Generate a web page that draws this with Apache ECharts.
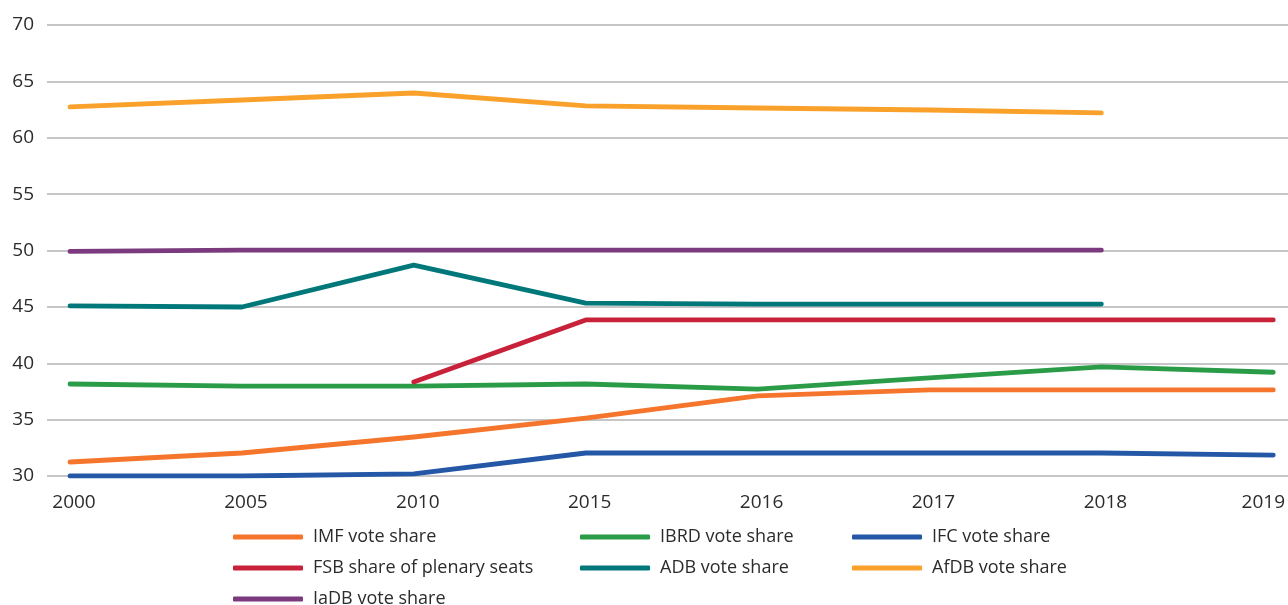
<!DOCTYPE html>
<html>
<head>
<meta charset="utf-8">
<script src="https://cdn.jsdelivr.net/npm/echarts@6/dist/echarts.min.js"></script>
<style>html,body{margin:0;padding:0;background:#fff;}#c{width:1288px;height:605px;}</style>
</head>
<body>
<div id="c"></div>
<script>
const years = ['2000','2005','2010','2015','2016','2017','2018','2019'];
const yTicks = [30, 35, 40, 45, 50, 55, 60, 65, 70];
const imf  = [31.24, 32.04, 33.46, 35.14, 37.1, 37.63, 37.63, 37.63];
const ibrd = [38.16, 37.98, 37.98, 38.16, 37.7, 38.7, 39.67, 39.2];
const ifc  = [30.0, 30.0, 30.18, 32.04, 32.04, 32.04, 32.04, 31.86];
const fsb  = [null, null, 38.34, 43.84, 43.84, 43.84, 43.84, 43.84];
const adb  = [45.08, 44.99, 48.7, 45.34, 45.25, 45.25, 45.25, null];
const afdb = [62.73, 63.35, 63.97, 62.82, 62.64, 62.46, 62.2, null];
const iadb = [49.92, 50.03, 50.03, 50.03, 50.03, 50.03, 50.03, null];

const names = ['IMF vote share','IBRD vote share','IFC vote share','FSB share of plenary seats','ADB vote share','AfDB vote share','IaDB vote share'];
const values = [imf, ibrd, ifc, fsb, adb, afdb, iadb];
const colors = ['#F4752B','#2A9C48','#2458A6','#C8213A','#00787A','#F9A12B','#7B3A7E'];

const font = 'Open Sans';
const txt = '#2b2b2b';
const chart = echarts.init(document.getElementById('c'));
const yMin = yTicks[0], yMax = yTicks[yTicks.length-1], yStep = yTicks[1]-yTicks[0];

chart.setOption({
  animation: false,
  textStyle: {fontFamily: font},
  grid: [
    {left: 70, right: 13, top: 25, bottom: 129},
    {left: 47, right: 0, top: 25, bottom: 129}
  ],
  xAxis: [
    {type: 'category', gridIndex: 0, data: years, boundaryGap: false,
     axisLine: {show: false}, axisTick: {show: false},
     axisLabel: {margin: 17,
       formatter: (v, i) => (i === years.length - 1 ? '{e|' : '{n|') + v + '}',
       rich: {
         n: {color: txt, fontSize: 19, fontFamily: font, padding: [0, 0, 0, 8]},
         e: {color: txt, fontSize: 19, fontFamily: font, padding: [0, 20, 0, 0]}
       }}},
    {type: 'value', gridIndex: 1, show: false, min: 0, max: 1}
  ],
  yAxis: [
    {type: 'value', gridIndex: 0, min: yMin, max: yMax, interval: yStep, show: false},
    {type: 'value', gridIndex: 1, min: yMin, max: yMax, interval: yStep,
     axisLine: {show: false}, axisTick: {show: false},
     axisLabel: {color: txt, fontSize: 19, margin: 13, fontFamily: font},
     splitLine: {lineStyle: {color: '#b3b3b3', width: 1.5}}}
  ],
  legend: [
    {data: [names[0], names[3], names[6]], left: 233},
    {data: [names[1], names[4]], left: 580},
    {data: [names[2], names[5]], left: 852}
  ].map(l => Object.assign({
    orient: 'vertical', top: 527, height: 100, padding: 0, itemGap: 11,
    itemWidth: 70, itemHeight: 5, icon: 'roundRect',
    textStyle: {fontSize: 18, lineHeight: 20, color: txt, fontFamily: font, padding: [0, 0, 0, 5]}
  }, l)),
  series: names.map((n, i) => ({
    name: n, type: 'line', xAxisIndex: 0, yAxisIndex: 0,
    data: values[i], symbol: 'none', connectNulls: false,
    color: colors[i],
    lineStyle: {color: colors[i], width: 4.8, cap: 'round', join: 'round'}
  }))
});
</script>
</body>
</html>
